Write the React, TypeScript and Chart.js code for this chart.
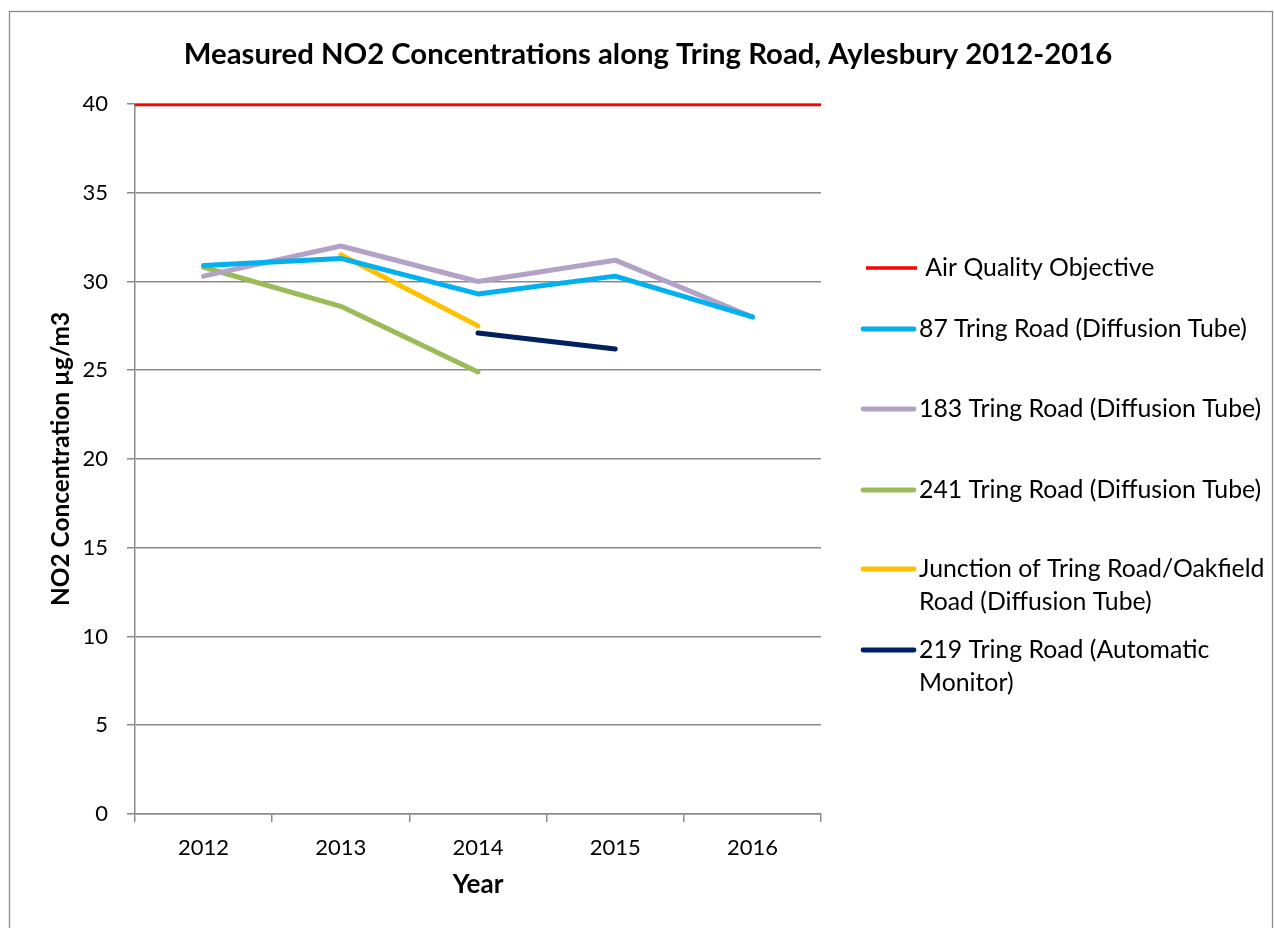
import React, { useEffect, useRef } from "react";
import { Chart, registerables } from "chart.js";

Chart.register(...registerables);

// ---------- data ----------
const YEARS = ["2012", "2013", "2014", "2015", "2016"];
const AQO_LEVEL = 40;
const TRING_87 = [30.9, 31.3, 29.3, 30.3, 28.0];
const TRING_183 = [30.3, 32.0, 30.0, 31.2, 28.0];
const TRING_241 = [30.8, 28.6, 24.9, null, null];
const JUNCTION_OAKFIELD = [null, 31.5, 27.5, null, null];
const TRING_219_AUTO = [null, null, 27.1, 26.2, null];

const Y_MIN = 0;
const Y_MAX = 40;
const Y_STEP = 5;

const TITLE = "Measured NO2 Concentrations along Tring Road, Aylesbury 2012-2016";
const X_TITLE = "Year";
const Y_TITLE = "NO2 Concentration µg/m3";

const LEGEND_AQO = [" Air Quality Objective"];
const LEGEND_87 = ["87 Tring Road (Diffusion Tube)"];
const LEGEND_183 = ["183 Tring Road (Diffusion Tube)"];
const LEGEND_241 = ["241 Tring Road (Diffusion Tube)"];
const LEGEND_JUNCTION = ["Junction of Tring Road/Oakfield", "Road (Diffusion Tube)"];
const LEGEND_219 = ["219 Tring Road (Automatic", "Monitor)"];

// ---------- styles ----------
const FONT = "Lato, 'Open Sans', sans-serif";
const GRID = "#8a8a8a";
const COLORS = {
  aqo: "#FF0000",
  t87: "#00B0F0",
  t183: "#B3A2C7",
  t241: "#9BBB59",
  junction: "#FFC000",
  t219: "#002060",
};

// legend layout
const LEGEND_ROWS_Y = [268, 329, 409, 490, 569, 650];
const LEGEND_LINE_H = 33;

const frameAndLegend = {
  id: "frameAndLegend",
  beforeDraw(chart: any) {
    const ctx = chart.ctx;
    ctx.save();
    ctx.fillStyle = "#ffffff";
    ctx.fillRect(0, 0, chart.width, chart.height);
    ctx.strokeStyle = "#8c8c8c";
    ctx.lineWidth = 1.3;
    ctx.strokeRect(9.5, 11.5, chart.width - 11, chart.height + 20);
    ctx.restore();
  },
  afterDraw(chart: any) {
    const ctx = chart.ctx;
    const right = chart.chartArea.right;
    ctx.save();
    ctx.font = `24.8px ${FONT}`;
    ctx.textBaseline = "middle";
    ctx.fillStyle = "#000";
    chart.data.datasets.forEach((ds: any, i: number) => {
      const y = LEGEND_ROWS_Y[i];
      const lines: string[] = ds.legendLines;
      ctx.strokeStyle = ds.borderColor;
      if (i === 0) {
        ctx.lineCap = "butt";
        ctx.lineWidth = 3.5;
        ctx.beginPath();
        ctx.moveTo(right + 45, y);
        ctx.lineTo(right + 96, y);
        ctx.stroke();
      } else {
        ctx.lineCap = "round";
        ctx.lineWidth = 4.8;
        ctx.beginPath();
        ctx.moveTo(right + 42, y);
        ctx.lineTo(right + 93, y);
        ctx.stroke();
      }
      lines.forEach((t, k) => {
        ctx.fillText(t, right + 98, y + k * LEGEND_LINE_H);
      });
    });
    ctx.restore();
  },
};

function lineDs(label: string[], data: (number | null)[], color: string) {
  return {
    label: label.join(" "),
    legendLines: label,
    data,
    borderColor: color,
    backgroundColor: color,
    borderWidth: 5,
    borderCapStyle: "round",
    borderJoinStyle: "round",
    pointRadius: 0,
    pointHoverRadius: 0,
    spanGaps: false,
    tension: 0,
    xAxisID: "x",
    yAxisID: "y",
  };
}

export default function App() {
  const ref = useRef<HTMLCanvasElement>(null);

  useEffect(() => {
    if (!ref.current) return;
    const chart = new Chart(ref.current, {
      type: "line",
      data: {
        labels: YEARS,
        datasets: [
          {
            label: LEGEND_AQO.join(" ").trim(),
            legendLines: LEGEND_AQO,
            data: [
              { x: 0, y: AQO_LEVEL },
              { x: YEARS.length, y: AQO_LEVEL },
            ],
            borderColor: COLORS.aqo,
            backgroundColor: COLORS.aqo,
            borderWidth: 4.5,
            pointRadius: 0,
            xAxisID: "xLin",
            yAxisID: "y",
          } as any,
          lineDs(LEGEND_87, TRING_87, COLORS.t87) as any,
          lineDs(LEGEND_183, TRING_183, COLORS.t183) as any,
          lineDs(LEGEND_241, TRING_241, COLORS.t241) as any,
          lineDs(LEGEND_JUNCTION, JUNCTION_OAKFIELD, COLORS.junction) as any,
          lineDs(LEGEND_219, TRING_219_AUTO, COLORS.t219) as any,
        ],
      },
      options: {
        responsive: false,
        animation: false,
        devicePixelRatio: 1,
        layout: { padding: { left: 22, right: 0, top: 0, bottom: 0 } },
        plugins: {
          legend: { display: false },
          tooltip: { enabled: false },
          title: {
            display: true,
            text: TITLE,
            color: "#000",
            font: { family: FONT, size: 29.3, weight: "bold" },
            padding: { top: 37, bottom: 31.8 },
          },
        },
        scales: {
          x: {
            type: "category",
            position: "bottom",
            offset: true,
            afterFit: (s: any) => {
              s.height = 114;
            },
            grid: {
              offset: true,
              drawOnChartArea: false,
              drawTicks: true,
              tickLength: 8,
              color: GRID,
              lineWidth: 1.5,
            },
            border: { display: true, color: GRID, width: 1.5 },
            ticks: {
              color: "#000",
              font: { family: FONT, size: 22 },
              padding: 13,
              maxRotation: 0,
            },
            title: {
              display: true,
              text: X_TITLE,
              color: "#000",
              font: { family: FONT, size: 26, weight: "bold" },
              padding: { top: 0, bottom: 28 },
            },
          },
          xLin: {
            type: "linear",
            position: "bottom",
            display: false,
            min: 0,
            max: YEARS.length,
          },
          y: {
            type: "linear",
            position: "left",
            min: Y_MIN,
            max: Y_MAX,
            afterFit: (s: any) => {
              s.width = 113;
            },
            grid: {
              color: GRID,
              lineWidth: 1.5,
              drawTicks: true,
              tickLength: 8,
            },
            border: { display: true, color: GRID, width: 1.5 },
            ticks: {
              stepSize: Y_STEP,
              color: "#000",
              font: { family: FONT, size: 22 },
              padding: 19,
            },
            title: {
              display: true,
              text: Y_TITLE,
              color: "#000",
              font: { family: FONT, size: 24.4, weight: "bold" },
              padding: { top: 24.4, bottom: 0 },
            },
          },
          legendSpace: {
            type: "linear",
            position: "right",
            display: true,
            afterFit: (s: any) => {
              s.width = 453;
            },
            grid: { display: false, drawTicks: false },
            border: { display: false },
            ticks: { display: false },
            title: { display: false },
          },
        },
      },
      plugins: [frameAndLegend],
    } as any);
    return () => chart.destroy();
  }, []);

  return (
    <div style={{ position: "fixed", left: 0, top: 0, width: 1274, height: 928 }}>
      <canvas ref={ref} width={1274} height={928} style={{ display: "block" }} />
    </div>
  );
}
